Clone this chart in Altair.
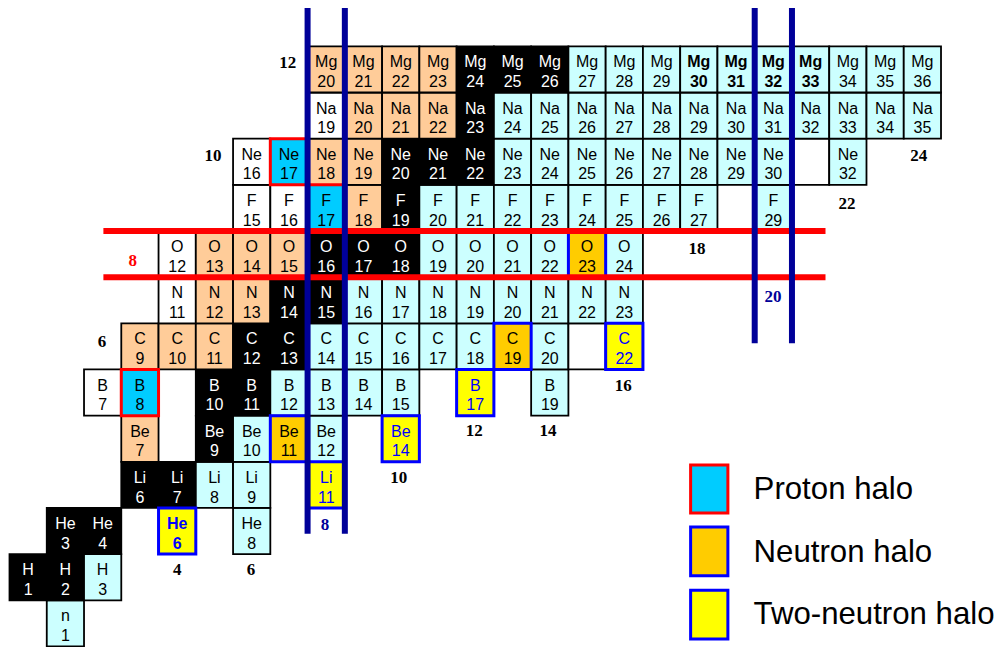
import altair as alt
import pandas as pd

# ---------------- data ----------------
SYMBOLS = ["n", "H", "He", "Li", "Be", "B", "C", "N", "O", "F", "Ne", "Na", "Mg"]

# (mass number, class) per element, class codes:
# S stable, P proton-rich, R neutron-rich, W white, E empty box,
# PH proton halo, NH neutron halo, TN two-neutron halo
ISO_n = [(1, "R")]
ISO_H = [(1, "S"), (2, "S"), (3, "R")]
ISO_He = [(3, "S"), (4, "S"), (6, "TN"), (8, "R")]
ISO_Li = [(6, "S"), (7, "S"), (8, "R"), (9, "R"), (11, "TN")]
ISO_Be = [(7, "P"), (9, "S"), (10, "R"), (11, "NH"), (12, "R"), (14, "TN")]
ISO_B = [(7, "W"), (8, "PH"), (10, "S"), (11, "S"), (12, "R"), (13, "R"), (14, "R"),
         (15, "R"), (17, "TN"), (19, "R")]
ISO_C = [(9, "P"), (10, "P"), (11, "P"), (12, "S"), (13, "S"), (14, "R"), (15, "R"),
         (16, "R"), (17, "R"), (18, "R"), (19, "NH"), (20, "R"), (21, "E"), (22, "TN")]
ISO_N = [(11, "W"), (12, "P"), (13, "P"), (14, "S"), (15, "S"), (16, "R"), (17, "R"),
         (18, "R"), (19, "R"), (20, "R"), (21, "R"), (22, "R"), (23, "R")]
ISO_O = [(12, "W"), (13, "P"), (14, "P"), (15, "P"), (16, "S"), (17, "S"), (18, "S"),
         (19, "R"), (20, "R"), (21, "R"), (22, "R"), (23, "NH"), (24, "R")]
ISO_F = [(15, "W"), (16, "W"), (17, "PH"), (18, "P"), (19, "S"), (20, "R"), (21, "R"),
         (22, "R"), (23, "R"), (24, "R"), (25, "R"), (26, "R"), (27, "R"), (29, "R")]
ISO_Ne = [(16, "W"), (17, "PH"), (18, "P"), (19, "P"), (20, "S"), (21, "S"), (22, "S"),
          (23, "R"), (24, "R"), (25, "R"), (26, "R"), (27, "R"), (28, "R"), (29, "R"),
          (30, "R"), (31, "E"), (32, "R")]
ISO_Na = [(19, "W"), (20, "P"), (21, "P"), (22, "P"), (23, "S"), (24, "R"), (25, "R"),
          (26, "R"), (27, "R"), (28, "R"), (29, "R"), (30, "R"), (31, "R"), (32, "R"),
          (33, "R"), (34, "R"), (35, "R")]
ISO_Mg = [(20, "P"), (21, "P"), (22, "P"), (23, "P"), (24, "S"), (25, "S"), (26, "S"),
          (27, "R"), (28, "R"), (29, "R"), (30, "R"), (31, "R"), (32, "R"), (33, "R"),
          (34, "R"), (35, "R"), (36, "R")]
ISOTOPES = [ISO_n, ISO_H, ISO_He, ISO_Li, ISO_Be, ISO_B, ISO_C, ISO_N, ISO_O, ISO_F,
            ISO_Ne, ISO_Na, ISO_Mg]

BOLD_LABELS = ["He6", "Mg30", "Mg31", "Mg32", "Mg33"]

MAGIC_N = [8, 20]
MAGIC_Z = [8]

# magic-number labels: text, N position, Z position
MAGIC_TEXT = ["12", "10", "8", "6", "24", "22", "18", "20", "16", "14", "12", "10", "8", "4", "6"]
MAGIC_NPOS = [7.47, 5.46, 3.31, 2.48, 24.4, 22.48, 18.45, 20.49, 16.47, 14.45, 12.47, 10.45, 8.47, 4.5, 6.48]
MAGIC_ZPOS = [12.63, 10.62, 8.35, 6.6, 10.62, 9.59, 8.61, 7.56, 5.64, 4.66, 4.66, 3.65, 2.63, 1.65, 1.65]
MAGIC_KIND = ["k", "k", "r", "k", "k", "k", "k", "b", "k", "k", "k", "k", "b", "k", "k"]

LEGEND_LABELS = ["Proton halo", "Neutron halo", "Two-neutron halo"]
LEGEND_KINDS = ["PH", "NH", "TN"]

# ---------------- styles ----------------
FILL = {"S": "#000000", "P": "#FFCC99", "R": "#CCFFFF", "W": "#FFFFFF", "E": "#FFFFFF",
        "PH": "#00CCFF", "NH": "#FFCC00", "TN": "#FFFF00"}
TEXTC = {"S": "#FFFFFF", "P": "#000000", "R": "#000000", "W": "#000000", "E": "#000000",
         "PH": "#000000", "NH": "#000000", "TN": "#0000FF"}
HALO_STROKE = {"PH": "#FF0000", "NH": "#0000FF", "TN": "#0000FF"}
MAGIC_COL = {"k": "#000000", "r": "#FF0000", "b": "#000099"}

rows = []
for Z, lst in enumerate(ISOTOPES):
    sym = SYMBOLS[Z]
    for A, k in lst:
        N = A - Z
        empty = k == "E"
        rows.append({
            "x": N, "x2": N + 1, "y": Z, "y2": Z + 1,
            "ysym": Z + 0.652, "ymass": Z + 0.224,
            "sym": "" if empty else sym, "mass": "" if empty else str(A),
            "fillc": FILL[k], "textc": TEXTC[k],
            "strokec": HALO_STROKE.get(k, "#000000"),
            "halo": 1 if k in HALO_STROKE else 0,
            "bold": 1 if f"{sym}{A}" in BOLD_LABELS else 0,
        })
cells = pd.DataFrame(rows)

xs = alt.Scale(domain=[-0.0403, 26.449], nice=False, zero=False)
ys = alt.Scale(domain=[-0.012, 13.83], nice=False, zero=False)
X = lambda f: alt.X(f, type="quantitative", scale=xs, axis=None)
Y = lambda f: alt.Y(f, type="quantitative", scale=ys, axis=None)

base = alt.Chart(cells)
rect_enc = dict(x=X("x"), x2="x2", y=Y("y"), y2="y2", fill=alt.Fill("fillc:N", scale=None))
plain = base.transform_filter("datum.halo == 0").mark_rect(stroke="#000000", strokeWidth=1.8).encode(**rect_enc)
halo = base.transform_filter("datum.halo == 1").mark_rect(strokeWidth=3).encode(
    stroke=alt.Stroke("strokec:N", scale=None), **rect_enc)

FONT = "Liberation Sans"
FS = 16
def txt(field, yfield, bold):
    return base.transform_filter(f"datum.bold == {bold}").mark_text(
        font=FONT, fontSize=FS, fontWeight="bold" if bold else "normal",
        align="center", baseline="middle").encode(
        x=X("xc"), y=Y(yfield), text=f"{field}:N", color=alt.Color("textc:N", scale=None)
    ).transform_calculate(xc="datum.x + 0.5")

texts = [txt("sym", "ysym", 0), txt("mass", "ymass", 0), txt("sym", "ysym", 1), txt("mass", "ymass", 1)]

# magic lines
vlines = pd.DataFrame([
    {"x": n + d, "y": (2.44 if n == 8 else 6.57), "y2": 13.83}
    for n in MAGIC_N for d in (0, 1)
])
hlines = pd.DataFrame([
    {"y": z + d, "x": 2.52, "x2": 21.9} for z in MAGIC_Z for d in (0, 1)
])
vrule = alt.Chart(vlines).mark_rule(color="#000099", strokeWidth=6).encode(x=X("x"), y=Y("y"), y2="y2")
hrule = alt.Chart(hlines).mark_rule(color="#FF0000", strokeWidth=6).encode(y=Y("y"), x=X("x"), x2="x2")

mag = pd.DataFrame({"t": MAGIC_TEXT, "x": MAGIC_NPOS, "y": MAGIC_ZPOS,
                    "c": [MAGIC_COL[k] for k in MAGIC_KIND]})
magic = alt.Chart(mag).mark_text(font="Liberation Serif", fontSize=17, fontWeight="bold",
                                 align="center", baseline="middle").encode(
    x=X("x"), y=Y("y"), text="t:N", color=alt.Color("c:N", scale=None))

# legend
leg = pd.DataFrame({
    "label": LEGEND_LABELS,
    "fillc": [FILL[k] for k in LEGEND_KINDS],
    "strokec": [HALO_STROKE[k] for k in LEGEND_KINDS],
    "x": 18.28, "x2": 19.28,
    "y": [2.89, 1.53, 0.16], "y2": [3.93, 2.59, 1.22],
    "ty": [3.39, 2.03, 0.68], "tx": 19.97,
})
leg_rect = alt.Chart(leg).mark_rect(strokeWidth=3).encode(
    x=X("x"), x2="x2", y=Y("y"), y2="y2",
    fill=alt.Fill("fillc:N", scale=None), stroke=alt.Stroke("strokec:N", scale=None))
leg_text = alt.Chart(leg).mark_text(font=FONT, fontSize=31.2, align="left", baseline="middle",
                                    color="#000000").encode(x=X("tx"), y=Y("ty"), text="label:N")

chart = alt.layer(plain, halo, *texts, hrule, vrule, magic, leg_rect, leg_text).properties(
    width=987, height=639, padding=0, autosize=alt.AutoSizeParams(type="none")
).configure_view(stroke=None)

chart.save("out.html", embed_options={"renderer": "svg", "actions": False})
